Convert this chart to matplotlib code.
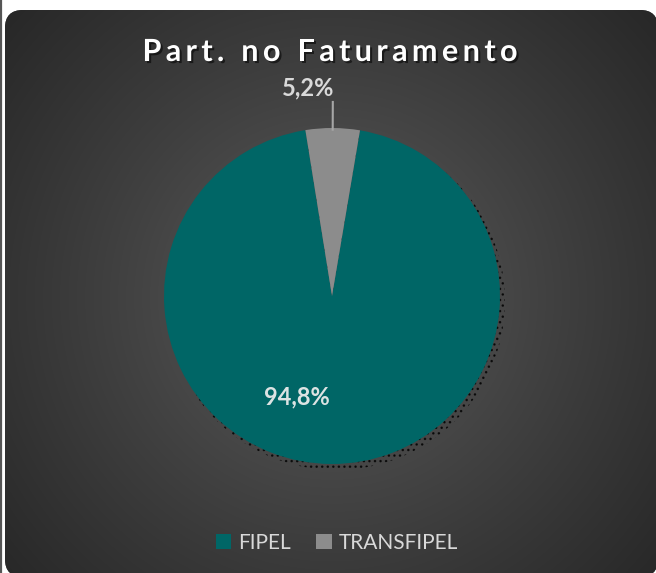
import matplotlib
matplotlib.use('Agg')
import matplotlib.pyplot as plt
import numpy as np
from matplotlib.patches import FancyBboxPatch, Circle, Patch
import matplotlib.patheffects as pe

# ---- data ----
categories = ['FIPEL', 'TRANSFIPEL']
shares = [94.8, 5.2]
share_labels = ['94,8%', '5,2%']
colors = ['#006666', '#8c8c8c']
title = 'Part. no Faturamento'

W, H = 656, 573
plt.rcParams['hatch.linewidth'] = 1.0
fig = plt.figure(figsize=(W / 100, H / 100), dpi=100, facecolor='white')
ax = fig.add_axes([0, 0, 1, 1])
ax.axis('off')

def set_lims():
    ax.set_xlim(0, W)
    ax.set_ylim(0, H)
    ax.set_aspect('auto')

set_lims()

# thin dark line at the far left
ax.plot([0.8, 0.8], [0, H], color='#555555', lw=1.6, zorder=1)

# rounded dark panel with radial gradient
px0, px1, py0, py1 = 5, 658, -4, 563
panel = FancyBboxPatch((px0, py0), px1 - px0, py1 - py0,
                       boxstyle='round,pad=0,rounding_size=18',
                       facecolor='#2b2b2b', edgecolor='none', zorder=2)
ax.add_patch(panel)
gx = np.linspace(px0, px1, 400)
gy = np.linspace(py0, py1, 400)
GX, GY = np.meshgrid(gx, gy)
d = np.sqrt((GX - 332) ** 2 + (GY - 275) ** 2) / 430.0
d = np.clip(d, 0, 1)
c_center, c_edge = 0x60 / 255, 0x28 / 255
val = c_center - (c_center - c_edge) * d ** 0.85
img = np.dstack([val, val, val])
im = ax.imshow(img, extent=(px0, px1, py0, py1), origin='lower',
               interpolation='bilinear', zorder=3)
im.set_clip_path(panel)

# pie
cx, cy, R = 332, 277, 168
shadow = Circle((cx + 4, cy - 5), R + 1, facecolor='none', edgecolor='black',
                linewidth=0, hatch='...', alpha=0.75, zorder=4)
ax.add_patch(shadow)
wedges, _ = ax.pie(shares, colors=colors, startangle=80.4, counterclock=False,
                   center=(cx, cy), radius=R,
                   wedgeprops=dict(linewidth=0))
for w in wedges:
    w.set_zorder(5)
set_lims()
ax.axis('off')

# data labels
lab_font = 'Lato'
w = wedges[1]
theta = np.deg2rad((w.theta1 + w.theta2) / 2)
x1, y1 = cx + R * 0.99 * np.cos(theta), cy + R * 0.99 * np.sin(theta)
x2, y2 = cx + R * 1.155 * np.cos(theta), cy + R * 1.155 * np.sin(theta)
ax.plot([x1, x2], [y1, y2], color='#a6a6a6', lw=1.5, zorder=6)
ax.text(x2 + 1, y2 + 3, share_labels[1], ha='right', va='bottom',
        fontsize=17, fontweight='bold', color='#d9d9d9', family=lab_font, zorder=7)
ax.text(cx - 35, cy - 101, share_labels[0], ha='center', va='center',
        fontsize=17, fontweight='bold', color='#dce3e3', family=lab_font, zorder=7)

# title with letter spacing
fig.canvas.draw()
rend = fig.canvas.get_renderer()
tkw = dict(fontsize=22, fontweight='bold', family='Lato', color='white')
widths = []
for ch in title:
    if ch == ' ':
        widths.append(None)
        continue
    t = ax.text(0, 0, ch, **tkw)
    widths.append(t.get_window_extent(rend).width)
    t.remove()
space_w = 22 * 100 / 72 * 0.27
target_w = 375
ws = [w_ if w_ is not None else space_w for w_ in widths]
gap = (target_w - sum(ws)) / (len(title) - 1)
x = 330 - target_w / 2
ty = H - 52
for ch, wch in zip(title, ws):
    if ch != ' ':
        ax.text(x, ty, ch, ha='left', va='center', zorder=8,
                path_effects=[pe.withSimplePatchShadow(offset=(1.5, -1.5), shadow_rgbFace='black', alpha=0.55)],
                **tkw)
    x += wch + gap

# legend
handles = [Patch(facecolor=c, edgecolor='none') for c in colors]
leg = ax.legend(handles, categories, loc='center', bbox_to_anchor=(337 / W, 30 / H),
                ncol=2, frameon=False, handlelength=0.75, handleheight=0.75,
                handletextpad=0.35, columnspacing=1.2,
                prop=dict(family='Lato', size=15), labelcolor='#d9d9d9')
leg.set_zorder(9)

fig.savefig('out.png', dpi=100, facecolor='white')
